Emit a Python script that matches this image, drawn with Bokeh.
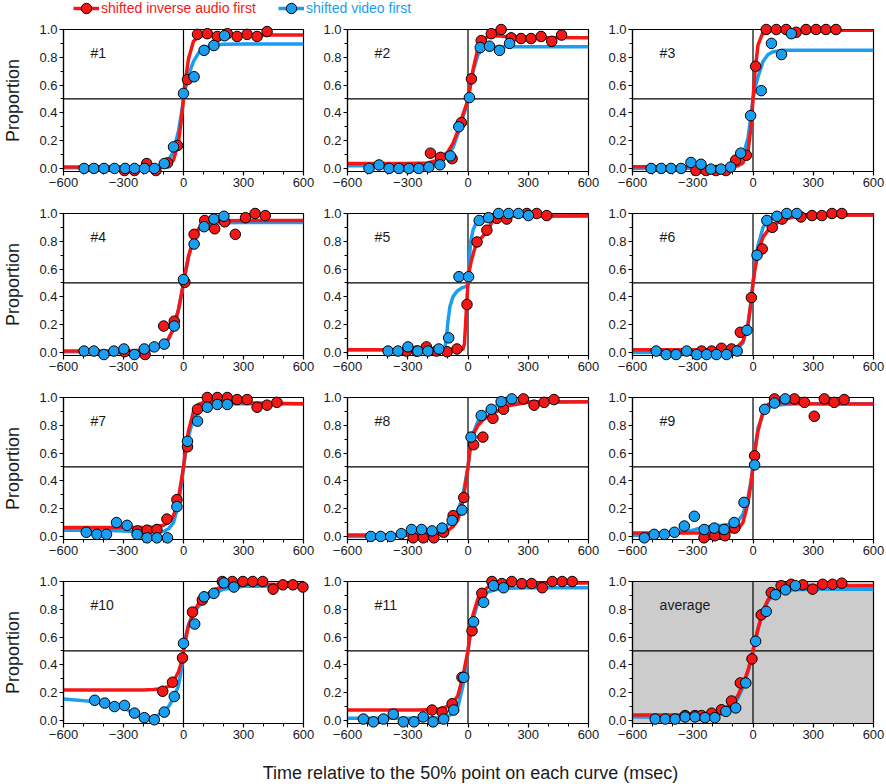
from bokeh.plotting import figure
from bokeh.models import Range1d, FixedTicker, Span, Label, Legend, LegendItem, ColumnDataSource, PrintfTickFormatter
from bokeh.layouts import column, row
from bokeh.embed import file_html
from bokeh.resources import INLINE

# ---------------- data ----------------
PANEL_LABELS = ["#1", "#2", "#3", "#4", "#5", "#6", "#7", "#8", "#9", "#10", "#11", "average"]
SERIES_NAMES = ["shifted inverse audio first", "shifted video first"]
X_TITLE = "Time relative to the 50% point on each curve (msec)"
Y_TITLE = "Proportion"
X_TICKS = [-600, -300, 0, 300, 600]
X_TICK_LABELS = ["\u2212600", "\u2212300", "0", "300", "600"]
X_MINOR = [-500, -400, -200, -100, 100, 200, 400, 500]
Y_TICKS = [0.0, 0.2, 0.4, 0.6, 0.8, 1.0]
Y_MINOR = [0.1, 0.3, 0.5, 0.7, 0.9]

RED_X = [
    [-295, -245, -184, -138, -80, -30, 20, 70, 119, 169, 219, 268, 318, 368, 418],
    [-187, -137, -79, -33, 17, 66, 116, 165, 215, 264, 314, 364, 417, 466],
    [-284, -234, -185, -135, -86, -33, 13, 66, 116, 165, 215, 264, 314, 363, 413],
    [-295, -192, -99, -46, 7, 53, 106, 156, 206, 259, 310, 358, 409],
    [-306, -256, -207, -157, -104, -55, -5, 45, 94, 144, 193, 293, 342, 392],
    [-256, -206, -157, -107, -63, -8, 46, 96, 145, 239, 294, 343, 393, 442],
    [-230, -182, -133, -83, -33, 20, 70, 119, 169, 219, 268, 318, 368, 418, 467],
    [-273, -223, -170, -121, -74, -21, 28, 74, 124, 177, 276, 329, 379, 428],
    [-244, -190, -140, -91, 8, 107, 206, 256, 305, 355, 404, 454],
    [-104, -55, -5, 45, 94, 194, 244, 297, 346, 396, 448, 497, 547, 597],
    [-179, -129, -79, -30, 20, 69, 119, 169, 218, 268, 317, 370, 420, 469, 519],
    [-338, -289, -256, -206, -157, -107, -63, -5, 41, 91, 140, 190, 248, 297, 347, 396, 442],
]
RED_Y = [
    [-0.015, -0.015, 0.035, -0.015, 0.04, 0.165, 0.64, 0.965, 0.97, 0.95, 0.97, 0.95, 0.965, 0.95, 0.985],
    [0.11, 0.08, 0.07, 0.33, 0.645, 0.92, 0.97, 1.0, 0.94, 0.935, 0.935, 0.95, 0.915, 0.96],
    [-0.015, -0.015, -0.015, -0.015, 0.06, 0.095, 0.735, 1.0, 1.0, 1.0, 0.98, 1.0, 1.0, 1.0, 1.0],
    [0.005, -0.015, 0.19, 0.225, 0.505, 0.85, 0.95, 0.89, 0.94, 0.85, 0.97, 1.0, 0.985],
    [0.01, 0.01, 0.04, 0.01, 0.005, 0.025, 0.345, 0.795, 0.88, 0.965, 0.96, 1.0, 1.0, 0.985],
    [0.01, 0.01, 0.03, 0.025, 0.145, 0.395, 0.745, 0.9, 0.96, 0.975, 0.985, 0.985, 1.0, 1.0],
    [0.04, 0.045, 0.05, 0.125, 0.265, 0.645, 0.915, 1.0, 1.0, 1.0, 0.985, 0.985, 0.93, 0.945, 0.965],
    [-0.01, -0.01, -0.01, 0.03, 0.15, 0.28, 0.66, 0.715, 0.85, 0.915, 0.99, 0.945, 0.965, 0.985],
    [-0.01, 0.005, 0.005, 0.06, 0.58, 0.99, 0.99, 0.965, 0.865, 0.99, 0.965, 0.985],
    [0.21, 0.275, 0.45, 0.78, 0.867, 1.0, 1.0, 1.0, 1.0, 1.0, 0.945, 0.976, 0.976, 0.96],
    [0.075, 0.06, 0.12, 0.31, 0.645, 0.915, 1.0, 0.985, 1.0, 0.985, 0.985, 0.955, 1.0, 1.0, 1.0],
    [0.035, 0.035, 0.035, 0.052, 0.077, 0.14, 0.27, 0.443, 0.76, 0.92, 0.97, 0.98, 0.976, 0.945, 0.98, 0.98, 0.988],
]
BLUE_X = [
    [-497, -448, -398, -345, -292, -245, -195, -145, -96, -50, 0, 53, 103, 152, 205],
    [-493, -443, -393, -344, -294, -245, -195, -140, -88, -46, 7, 61, 107, 157, 207],
    [-507, -457, -408, -358, -309, -259, -210, -160, -111, -61, -12, 41, 92, 142, 191],
    [-497, -448, -398, -348, -298, -245, -196, -146, -96, -46, 0, 53, 103, 152, 202],
    [-398, -349, -299, -250, -200, -145, -96, -45, 3, 56, 102, 152, 202, 251, 301],
    [-482, -432, -383, -330, -280, -231, -182, -132, -79, -30, 20, 69, 119, 168, 218],
    [-486, -433, -385, -335, -282, -232, -182, -133, -80, -33, 20, 70, 119, 169, 219],
    [-484, -435, -385, -332, -281, -231, -179, -129, -79, -30, 15, 66, 116, 165, 218],
    [-541, -492, -441, -391, -342, -292, -243, -193, -144, -94, -45, 8, 58, 107, 160],
    [-444, -394, -345, -295, -245, -196, -146, -96, -46, 0, 56, 103, 152, 202, 252],
    [-521, -471, -421, -372, -322, -269, -223, -174, -121, -71, -21, 28, 78, 127, 177],
    [-487, -437, -388, -338, -289, -239, -190, -135, -86, -36, 13, 66, 112, 162, 211],
]
BLUE_Y = [
    [0.0, 0.0, 0.0, 0.0, 0.0, 0.0, 0.0, 0.0, 0.035, 0.155, 0.54, 0.66, 0.85, 0.885, 0.955],
    [0.0, 0.025, 0.0, 0.0, 0.0, 0.0, 0.01, 0.026, 0.09, 0.3, 0.51, 0.87, 0.88, 0.85, 0.9],
    [0.0, 0.0, 0.0, 0.0, 0.043, 0.03, -0.005, -0.005, 0.01, 0.11, 0.38, 0.56, 0.9, 0.82, 0.97],
    [0.01, 0.01, -0.015, 0.01, 0.025, -0.015, 0.025, 0.04, 0.06, 0.19, 0.525, 0.78, 0.905, 0.96, 0.98],
    [0.01, 0.01, 0.04, 0.01, 0.01, 0.025, 0.105, 0.545, 0.545, 0.95, 0.97, 1.0, 1.0, 1.0, 0.985],
    [0.01, -0.015, -0.015, 0.01, -0.015, -0.015, -0.015, -0.015, 0.01, 0.16, 0.7, 0.95, 0.98, 1.0, 1.0],
    [0.03, 0.015, 0.015, 0.1, 0.08, 0.015, -0.01, -0.01, -0.01, 0.215, 0.685, 0.83, 0.93, 0.95, 0.95],
    [0.0, 0.0, 0.0, 0.02, 0.05, 0.05, 0.04, 0.06, 0.115, 0.19, 0.715, 0.87, 0.915, 0.97, 0.99],
    [-0.01, 0.015, 0.015, 0.03, 0.075, 0.145, 0.05, 0.06, 0.05, 0.1, 0.245, 0.515, 0.915, 0.96, 0.99],
    [0.145, 0.125, 0.1, 0.108, 0.053, 0.02, 0.005, 0.06, 0.172, 0.555, 0.694, 0.89, 0.915, 0.99, 0.96],
    [0.01, -0.01, 0.01, 0.045, -0.01, -0.01, 0.025, -0.01, 0.01, 0.075, 0.31, 0.71, 0.85, 0.97, 0.955],
    [0.01, 0.01, 0.01, 0.025, 0.025, 0.02, 0.02, 0.065, 0.09, 0.27, 0.57, 0.785, 0.905, 0.94, 0.97],
]

# fitted curves at these time values
FIT_X = [-600, -400, -300, -250, -200, -150, -100, -75, -50, -25, -10, 0, 10, 25, 50, 75, 100, 150, 200, 300, 600]
RED_FIT_X_5 = [-600, -40, -25, -18, -12, -6, 0, 8, 15, 28, 45, 70, 95, 120, 145, 200, 600]
BLUE_FIT_X_5 = [-600, -125, -115, -108, -100, -90, -75, -55, -30, -10, 0, 4, 8, 14, 25, 40, 60, 90, 130, 200, 600]
RED_FIT_X = [FIT_X, FIT_X, FIT_X, FIT_X, RED_FIT_X_5, FIT_X, FIT_X, FIT_X, FIT_X, FIT_X, FIT_X, FIT_X]
BLUE_FIT_X = [FIT_X, FIT_X, FIT_X, FIT_X, BLUE_FIT_X_5, FIT_X, FIT_X, FIT_X, FIT_X, FIT_X, FIT_X, FIT_X]
RED_FIT = [
    [0.01, 0.01, 0.01, 0.01, 0.01, 0.01, 0.013, 0.022, 0.06, 0.19, 0.36, 0.5, 0.635, 0.79, 0.915, 0.95, 0.957, 0.96, 0.96, 0.96, 0.96],
    [0.035, 0.035, 0.036, 0.038, 0.04, 0.06, 0.12, 0.18, 0.27, 0.39, 0.45, 0.5, 0.58, 0.71, 0.87, 0.93, 0.95, 0.955, 0.948, 0.942, 0.94],
    [0.012, 0.012, 0.012, 0.012, 0.012, 0.013, 0.015, 0.02, 0.04, 0.12, 0.3, 0.5, 0.7, 0.89, 0.98, 0.993, 0.995, 0.995, 0.995, 0.995, 0.995],
    [0.01, 0.01, 0.011, 0.012, 0.015, 0.025, 0.06, 0.1, 0.17, 0.31, 0.42, 0.5, 0.58, 0.69, 0.82, 0.89, 0.92, 0.94, 0.947, 0.95, 0.95],
    [0.02, 0.02, 0.025, 0.06, 0.2, 0.37, 0.5, 0.6, 0.65, 0.72, 0.8, 0.83, 0.87, 0.94, 0.97, 0.98, 0.983],
    [0.02, 0.02, 0.02, 0.02, 0.02, 0.022, 0.03, 0.045, 0.08, 0.2, 0.36, 0.5, 0.6, 0.72, 0.83, 0.88, 0.915, 0.955, 0.975, 0.987, 0.99],
    [0.065, 0.065, 0.065, 0.065, 0.065, 0.068, 0.08, 0.1, 0.15, 0.28, 0.41, 0.5, 0.62, 0.76, 0.9, 0.95, 0.965, 0.97, 0.968, 0.962, 0.955],
    [0.01, 0.01, 0.01, 0.011, 0.012, 0.02, 0.045, 0.07, 0.12, 0.26, 0.4, 0.5, 0.63, 0.73, 0.8, 0.84, 0.865, 0.905, 0.94, 0.965, 0.97],
    [0.025, 0.025, 0.025, 0.025, 0.025, 0.027, 0.035, 0.05, 0.1, 0.24, 0.38, 0.5, 0.62, 0.76, 0.9, 0.95, 0.962, 0.962, 0.96, 0.955, 0.953],
    [0.22, 0.22, 0.22, 0.22, 0.22, 0.222, 0.23, 0.245, 0.28, 0.35, 0.42, 0.5, 0.58, 0.68, 0.78, 0.84, 0.885, 0.94, 0.965, 0.98, 0.978],
    [0.075, 0.075, 0.075, 0.075, 0.077, 0.08, 0.1, 0.125, 0.18, 0.32, 0.43, 0.5, 0.63, 0.76, 0.88, 0.93, 0.96, 0.98, 0.988, 0.99, 0.99],
    [0.04, 0.04, 0.041, 0.043, 0.05, 0.075, 0.13, 0.18, 0.26, 0.36, 0.44, 0.5, 0.57, 0.66, 0.79, 0.87, 0.915, 0.95, 0.962, 0.968, 0.97],
]
BLUE_FIT = [
    [0.005, 0.005, 0.005, 0.005, 0.005, 0.008, 0.025, 0.055, 0.125, 0.27, 0.4, 0.5, 0.58, 0.67, 0.77, 0.83, 0.865, 0.888, 0.894, 0.895, 0.895],
    [0.02, 0.02, 0.021, 0.023, 0.025, 0.04, 0.1, 0.15, 0.25, 0.37, 0.44, 0.5, 0.58, 0.7, 0.82, 0.86, 0.87, 0.875, 0.875, 0.875, 0.875],
    [0.0, 0.0, 0.001, 0.002, 0.003, 0.006, 0.02, 0.04, 0.09, 0.22, 0.38, 0.5, 0.58, 0.66, 0.77, 0.82, 0.84, 0.85, 0.85, 0.85, 0.85],
    [0.005, 0.005, 0.006, 0.008, 0.012, 0.022, 0.055, 0.095, 0.17, 0.31, 0.42, 0.5, 0.58, 0.69, 0.81, 0.88, 0.91, 0.93, 0.934, 0.935, 0.935],
    [0.02, 0.02, 0.035, 0.1, 0.22, 0.33, 0.4, 0.44, 0.465, 0.475, 0.49, 0.6, 0.7, 0.8, 0.88, 0.93, 0.955, 0.97, 0.978, 0.98, 0.982],
    [0.0, 0.0, 0.0, 0.001, 0.002, 0.005, 0.015, 0.03, 0.07, 0.2, 0.36, 0.5, 0.63, 0.77, 0.9, 0.95, 0.97, 0.985, 0.988, 0.99, 0.99],
    [0.045, 0.044, 0.04, 0.035, 0.03, 0.028, 0.035, 0.055, 0.1, 0.23, 0.38, 0.5, 0.6, 0.72, 0.85, 0.91, 0.935, 0.95, 0.955, 0.955, 0.955],
    [0.0, 0.002, 0.008, 0.015, 0.025, 0.045, 0.085, 0.12, 0.18, 0.3, 0.42, 0.5, 0.62, 0.74, 0.83, 0.88, 0.91, 0.945, 0.96, 0.97, 0.97],
    [0.007, 0.024, 0.045, 0.065, 0.078, 0.08, 0.09, 0.11, 0.16, 0.28, 0.4, 0.5, 0.63, 0.78, 0.88, 0.925, 0.94, 0.95, 0.953, 0.955, 0.955],
    [0.155, 0.13, 0.095, 0.05, 0.025, 0.018, 0.06, 0.1, 0.16, 0.25, 0.37, 0.5, 0.6, 0.69, 0.77, 0.82, 0.86, 0.91, 0.945, 0.965, 0.97],
    [0.015, 0.015, 0.015, 0.016, 0.017, 0.02, 0.03, 0.05, 0.1, 0.25, 0.4, 0.5, 0.6, 0.73, 0.85, 0.9, 0.925, 0.945, 0.952, 0.955, 0.955],
    [0.025, 0.025, 0.027, 0.03, 0.035, 0.06, 0.11, 0.16, 0.24, 0.35, 0.43, 0.5, 0.57, 0.66, 0.78, 0.86, 0.9, 0.93, 0.94, 0.945, 0.945],
]

# ---------------- style ----------------
FONT = "Liberation Sans"
RED = "#f51616"
BLUE = "#1a9ef2"
INK = "#1a1a1a"
FRAME_W = 241
FRAME_H = 142


def make_panel(i):
    r, c = divmod(i, 3)
    left = 62 if c == 0 else 32
    right = 12
    top = 6
    bottom = 38 if r == 3 else 36
    p = figure(width=left + FRAME_W + right, height=top + FRAME_H + bottom,
               x_range=Range1d(-600, 600), y_range=Range1d(-0.022, 1.0),
               output_backend="svg", toolbar_location=None, tools="",
               min_border_left=left, min_border_right=right,
               min_border_top=top, min_border_bottom=bottom)
    p.title.visible = False
    p.grid.visible = False
    p.outline_line_color = "black"
    p.outline_line_width = 1.2
    p.background_fill_color = "#cccccc" if PANEL_LABELS[i] == "average" else "white"
    p.border_fill_color = "white"

    for ax in (p.xaxis[0], p.yaxis[0]):
        ax.axis_line_color = "black"
        ax.axis_line_width = 1.2
        ax.major_tick_line_color = "black"
        ax.minor_tick_line_color = "black"
        ax.major_tick_line_width = 1.2
        ax.minor_tick_line_width = 1.0
        ax.major_tick_in = 0
        ax.major_tick_out = 4
        ax.minor_tick_in = 0
        ax.minor_tick_out = 3
        ax.major_label_standoff = 2
        ax.major_label_text_font = FONT
        ax.major_label_text_font_size = "13px"
        ax.major_label_text_color = INK
        ax.axis_label_text_font = FONT
        ax.axis_label_text_font_size = "18px"
        ax.axis_label_text_font_style = "normal"
        ax.axis_label_text_color = INK

    p.xaxis.ticker = FixedTicker(ticks=X_TICKS, minor_ticks=X_MINOR)
    p.xaxis.major_label_overrides = dict(zip(X_TICKS, X_TICK_LABELS))
    p.yaxis.ticker = FixedTicker(ticks=Y_TICKS, minor_ticks=Y_MINOR)
    p.yaxis.formatter = PrintfTickFormatter(format="%.1f")

    if c == 0:
        p.yaxis.axis_label = Y_TITLE
        p.yaxis.axis_label_standoff = 13

    p.add_layout(Span(location=0, dimension="height", line_color="black", line_width=1.2, level="underlay"))
    p.add_layout(Span(location=0.5, dimension="width", line_color="black", line_width=1.2, level="underlay"))

    p.line(BLUE_FIT_X[i], BLUE_FIT[i], line_color=BLUE, line_width=3.5, line_join="round")
    p.line(RED_FIT_X[i], RED_FIT[i], line_color=RED, line_width=3.5, line_join="round")
    p.scatter(RED_X[i], RED_Y[i], marker="circle", size=10.5, fill_color=RED,
              line_color="black", line_width=1.0, level="overlay")
    p.scatter(BLUE_X[i], BLUE_Y[i], marker="circle", size=10.5, fill_color=BLUE,
              line_color="black", line_width=1.0, level="overlay")

    p.add_layout(Label(x=-465, y=0.83, text=PANEL_LABELS[i], text_font=FONT,
                       text_font_size="14px", text_color=INK, text_baseline="middle"))
    return p


def blank_strip(width, height, left=0):
    s = figure(width=width, height=height, x_range=Range1d(0, 1), y_range=Range1d(0, 1),
               output_backend="svg", toolbar_location=None, tools="",
               x_axis_location=None, y_axis_location=None,
               min_border=0, min_border_left=left)
    s.title.visible = False
    s.grid.visible = False
    s.outline_line_color = None
    return s


panels = [make_panel(i) for i in range(12)]
total_w = sum(pp.width for pp in panels[:3])

# legend strip on top
leg = blank_strip(total_w, 23)
placeholder = ColumnDataSource(dict(x=[float("nan")], y=[float("nan")]))
for name, color, xoff in ((SERIES_NAMES[0], RED, 18), (SERIES_NAMES[1], BLUE, 223)):
    rl = leg.line("x", "y", source=placeholder, line_color=color, line_width=3.5)
    rs = leg.scatter("x", "y", source=placeholder, marker="circle", size=10.5, fill_color=color,
                     line_color="black", line_width=1.0)
    lg = Legend(items=[LegendItem(label=name, renderers=[rl, rs])], location=(xoff, 1),
                orientation="horizontal", glyph_width=26, glyph_height=28, label_height=28,
                label_standoff=2, padding=0, margin=0, spacing=0,
                border_line_color=None, background_fill_alpha=0,
                label_text_color=color, label_text_font=FONT, label_text_font_size="14px")
    leg.add_layout(lg)

# common x-axis title strip at the bottom
xt = blank_strip(total_w, 22, left=55)
xt.add_layout(Label(x=0.5, y=0.5, text=X_TITLE, text_align="center", text_baseline="middle",
                    text_font=FONT, text_font_size="18px", text_color=INK))

layout = column(leg,
                row(*panels[0:3]), row(*panels[3:6]),
                row(*panels[6:9]), row(*panels[9:12]),
                xt)

open("out.html", "w").write(file_html(layout, INLINE))
